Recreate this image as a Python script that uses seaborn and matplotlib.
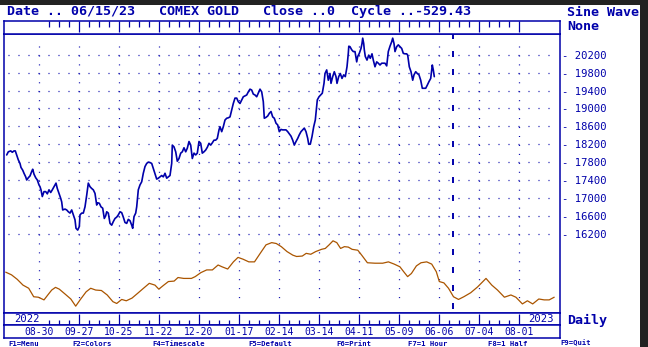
import matplotlib
matplotlib.use("Agg")
import matplotlib.pyplot as plt
import pandas as pd
import seaborn as sns
from matplotlib.patches import Rectangle

# ---------------- data ----------------
close_day = [
    -16.0, -15.2, -14.0, -13.2, -12.35, -11.7, -11.0, -10.2, -9.35, -8.85,
    -8.0, -7.35, -6.5, -6.0, -5.2, -4.35, -3.5, -3.0, -2.35, -1.5,
    -0.7, 0.15, 0.65, 1.15, 1.8, 2.65, 3.5, 4.3, 5.15, 6.0,
    6.8, 7.65, 8.65, 9.3, 10.15, 11.0, 11.5, 12.0, 13.15, 14.0,
    14.8, 15.65, 16.5, 17.3, 18.15, 18.65, 19.5, 20.3, 20.65, 21.5,
    22.3, 23.15, 24.0, 24.8, 25.65, 26.5, 27.3, 28.15, 29.0, 29.5,
    30.3, 31.15, 32.0, 32.8, 33.5, 34.0, 34.8, 35.65, 36.5, 37.3,
    38.15, 39.0, 39.8, 40.65, 41.5, 42.3, 43.15, 44.0, 44.8, 45.65,
    46.5, 47.0, 47.65, 48.5, 49.0, 49.8, 50.65, 51.5, 52.3, 53.15,
    54.0, 54.8, 55.65, 56.5, 57.3, 58.15, 59.0, 59.8, 60.65, 61.5,
    62.3, 63.15, 64.0, 64.8, 65.65, 66.5, 66.8, 67.65, 68.5, 69.3,
    70.15, 71.0, 71.8, 72.65, 73.5, 74.3, 75.15, 76.0, 76.8, 77.65,
    78.5, 79.3, 80.15, 81.0, 81.8, 82.65, 83.5, 84.3, 85.15, 86.0,
    86.8, 87.65, 88.5, 89.3, 90.15, 90.65, 91.5, 92.3, 93.15, 94.0,
    94.8, 95.65, 96.5, 97.3, 98.15, 99.0, 99.8, 100.65, 101.5, 102.3,
    103.15, 104.0, 104.8, 105.65, 106.5, 107.3, 108.15, 109.0, 109.8, 110.65,
    111.5, 112.3, 112.8, 113.65, 114.5, 115.3, 116.15, 117.0, 117.8, 118.65,
    119.5, 120.3, 121.15, 122.0, 122.8, 123.65, 124.5, 125.3, 126.15, 127.0,
    127.8, 128.65, 129.5, 130.3, 131.15, 132.0, 132.8, 133.65, 134.5, 135.0,
    135.8, 136.65, 137.5, 138.3, 138.8, 139.3, 140.15, 141.0, 141.8, 142.65,
    143.15, 144.0, 144.8, 145.65, 146.15, 147.0, 147.8, 148.65, 149.15, 150.0,
    150.8, 151.65, 152.5, 153.3, 154.15, 154.8, 155.05, 155.65, 156.5, 157.3,
    158.15, 159.0, 159.5, 160.3, 161.15, 161.65, 162.0, 162.5, 162.8, 163.3,
    164.15, 165.0, 165.8, 166.65, 167.3, 168.15, 169.0, 169.8, 170.65, 171.5,
    172.3, 173.15, 174.0, 174.8, 175.65, 176.5, 177.0, 177.65, 178.15, 179.0,
    179.8, 180.65, 181.5, 182.3, 183.15, 184.0, 184.5, 185.3, 186.15, 187.0,
    187.65, 188.5, 189.3, 190.15, 191.0, 191.8, 192.65, 193.5, 194.3, 195.15,
    196.0, 196.8, 197.3, 197.8,
]
close_val = [
    17960, 18030, 18050, 18020, 18050, 18050, 17960, 17850, 17770, 17680,
    17620, 17550, 17470, 17400, 17450, 17490, 17590, 17640, 17530, 17450,
    17400, 17290, 17250, 17180, 17030, 17140, 17140, 17090, 17180, 17120,
    17180, 17250, 17330, 17210, 17100, 16990, 16910, 16730, 16750, 16730,
    16690, 16660, 16730, 16620, 16510, 16320, 16280, 16360, 16620, 16660,
    16660, 16800, 17060, 17330, 17250, 17210, 17180, 17100, 16840, 16890,
    16880, 16800, 16770, 16540, 16600, 16690, 16660, 16430, 16390, 16470,
    16540, 16570, 16620, 16690, 16670, 16570, 16450, 16430, 16520, 16490,
    16390, 16320, 16580, 16660, 16800, 17180, 17290, 17360, 17550, 17700,
    17770, 17800, 17790, 17770, 17660, 17550, 17420, 17440, 17470, 17500,
    17470, 17550, 17440, 17470, 17500, 17770, 18180, 18140, 18030, 17820,
    17880, 18000, 18030, 18120, 18030, 18110, 18260, 18180, 17880, 18000,
    17960, 18000, 18260, 18220, 18000, 18030, 18070, 18130, 18220, 18180,
    18230, 18290, 18290, 18330, 18520, 18590, 18480, 18590, 18740, 18780,
    18790, 18810, 18960, 19110, 19230, 19230, 19150, 19110, 19190, 19260,
    19280, 19300, 19370, 19430, 19410, 19320, 19300, 19260, 19340, 19430,
    19370, 19150, 18780, 18800, 18830, 18890, 18930, 18810, 18780, 18670,
    18630, 18480, 18530, 18520, 18520, 18520, 18480, 18430, 18380, 18290,
    18180, 18260, 18330, 18410, 18480, 18520, 18560, 18480, 18330, 18200,
    18200, 18370, 18590, 18740, 18960, 19190, 19260, 19300, 19340, 19560,
    19780, 19860, 19630, 19780, 19560, 19710, 19820, 19710, 19560, 19710,
    19780, 19670, 19750, 19710, 19930, 20230, 20390, 20380, 20310, 20270,
    20270, 20040, 20160, 20230, 20340, 20450, 20570, 20450, 20310, 20160,
    20080, 20190, 20120, 20220, 20080, 19930, 20040, 20010, 19970, 20010,
    20010, 20010, 19950, 20270, 20390, 20490, 20570, 20450, 20270, 20380,
    20420, 20380, 20340, 20230, 20220, 20220, 20190, 19930, 19820, 19630,
    19750, 19820, 19780, 19750, 19630, 19450, 19450, 19450, 19520, 19600,
    19670, 19970, 19860, 19710,
]
wave_day = [
    -16.5, -13.6, -10.75, -7.85, -5.0, -2.5, -0.2, 2.65, 4.55, 6.5,
    8.4, 10.3, 13.2, 16.05, 18.5, 20.85, 23.7, 26.0, 28.5, 31.35,
    34.25, 37.1, 39.0, 41.5, 43.8, 46.65, 49.55, 52.4, 55.3, 58.15,
    60.05, 62.55, 64.85, 67.7, 69.65, 72.5, 76.35, 78.25, 81.1, 84.0,
    86.85, 89.7, 91.65, 94.5, 97.35, 99.65, 102.15, 105.05, 107.9, 110.75,
    113.65, 116.5, 118.8, 121.3, 124.15, 127.05, 128.95, 131.8, 133.75, 136.05,
    138.5, 141.4, 143.3, 145.2, 147.15, 149.05, 150.95, 152.85, 154.8, 156.7,
    159.55, 161.5, 164.35, 168.15, 172.0, 174.85, 177.75, 180.6, 182.5, 184.45,
    186.35, 188.85, 191.15, 194.0, 196.5, 198.8, 200.3, 202.6, 204.9, 207.4,
    209.9, 212.55, 216.0, 219.45, 223.65, 226.55, 229.4, 232.85, 236.1, 238.6,
    241.85, 244.35, 247.0, 250.05, 252.75, 255.25, 257.75,
]
wave_val = [
    15340, 15280, 15180, 15050, 14980, 14790, 14780, 14720, 14830, 14940,
    15000, 14960, 14850, 14740, 14580, 14730, 14900, 14980, 14940, 14930,
    14830, 14680, 14640, 14730, 14700, 14760, 14870, 14980, 15090, 15050,
    14960, 15050, 15130, 15140, 15220, 15200, 15200, 15240, 15330, 15390,
    15390, 15500, 15460, 15410, 15570, 15670, 15630, 15570, 15570, 15760,
    15950, 16000, 15980, 15910, 15800, 15720, 15690, 15700, 15760, 15740,
    15800, 15850, 15870, 15950, 16040, 16000, 15870, 15910, 15900, 15850,
    15830, 15720, 15550, 15540, 15540, 15570, 15520, 15460, 15350, 15240,
    15310, 15480, 15550, 15570, 15520, 15350, 15130, 15100, 14980, 14790,
    14730, 14790, 14880, 15010, 15200, 15050, 14940, 14780, 14830, 14780,
    14630, 14700, 14630, 14740, 14720, 14720, 14780,
]
price_ticks = [16200, 16600, 17000, 17400, 17800, 18200, 18600, 19000, 19400, 19800, 20200]
date_labels = ["08-30", "09-27", "10-25", "11-22", "12-20", "01-17", "02-14",
               "03-14", "04-11", "05-09", "06-06", "07-04", "08-01"]
date_days = [0, 20, 40, 60, 80, 100, 120, 140, 160, 180, 200, 220, 240]
week_days = list(range(5, 241, 5))
year_labels = ["2022", "2023"]
year_days = [-6.1, 251.15]
cursor_day = 207
header = "Date .. 06/15/23   COMEX GOLD   Close ..0  Cycle ..-529.43"
footer_keys = ["F1=Menu", "F2=Colors", "F4=Timescale", "F5=Default",
               "F6=Print", "F7=1 Hour", "F8=1 Half", "F9=Quit"]
footer_px = [8, 72, 152, 248, 336, 408, 488, 560]

# ---------------- style ----------------
BLUE = "#0000AA"
BROWN = "#AA5500"
sns.set_style("white")
plt.rcParams["font.family"] = ["DejaVu Sans Mono", "DejaVu Sans"]
plt.rcParams["lines.scale_dashes"] = False
MONO = "DejaVu Sans Mono"

W, H = 648, 347
fig = plt.figure(figsize=(W / 100, H / 100), dpi=100)
fig.patch.set_facecolor("white")

def fx(px):
    return px / W

def fy(py):
    return 1 - py / H

XLIM = (-17.35, 260.65)
YLIM = (14427, 20663)

ax = fig.add_axes([fx(4), fy(313), fx(556), 279 / H])
ax_top = fig.add_axes([fx(4), fy(34), fx(556), 13 / H])
ax_yr = fig.add_axes([fx(4), fy(325), fx(556), 12 / H])
ax_dt = fig.add_axes([fx(4), fy(338), fx(556), 13 / H])

for a in (ax, ax_top, ax_yr, ax_dt):
    a.set_xlim(*XLIM)
    a.set_facecolor("white")
    for s in a.spines.values():
        s.set_color(BLUE)
        s.set_linewidth(1.1)
        s.set_visible(True)
    a.set_yticks([])
ax.set_ylim(*YLIM)

# dotted grid
for p in price_ticks:
    ax.plot([-15.35, 255.15], [p, p], color=BLUE, lw=0.9,
            ls=(0, (0.72, 6.48)), dash_capstyle="butt", zorder=1)
for d in date_days:
    ax.plot([d, d], [20400, 14600], color=BLUE, lw=0.9,
            ls=(0, (0.72, 5.724)), dash_capstyle="butt", zorder=1)

# series
df_close = pd.DataFrame({"day": close_day, "close": close_val})
df_wave = pd.DataFrame({"day": wave_day, "wave": wave_val})
sns.lineplot(data=df_close, x="day", y="close", ax=ax, color=BLUE, lw=1.2,
             sort=False, estimator=None, zorder=3)
sns.lineplot(data=df_wave, x="day", y="wave", ax=ax, color=BROWN, lw=0.9,
             sort=False, estimator=None, zorder=3)
ax.set_xlabel("")
ax.set_ylabel("")

# cursor dashed line (extends into top strip)
ax.plot([cursor_day, cursor_day], [1 + 13 / 279, 0], transform=ax.get_xaxis_transform(),
        color=BLUE, lw=1.4, ls=(4.32, (4.32, 8.64)), dash_capstyle="butt",
        clip_on=False, zorder=4)

# right price axis
ax.yaxis.tick_right()
ax.set_yticks(price_ticks)
ax.set_yticklabels(["- " + str(p) for p in price_ticks])
ax.tick_params(axis="y", length=0, pad=1.5, labelsize=7.6, labelcolor=BLUE)
ax.set_xticks([])
for t in ax.get_yticklabels():
    t.set_fontfamily(MONO)

# top tick strip
minor = [d for d in week_days if d not in date_days]
major = [d for d in date_days if d >= 5]
ax_top.set_xticks(major)
ax_top.set_xticks(minor, minor=True)
ax_top.tick_params(axis="x", which="both", top=True, bottom=False, direction="in",
                   labeltop=False, labelbottom=False, color=BLUE, width=0.9)
ax_top.tick_params(axis="x", which="major", length=8.0)
ax_top.tick_params(axis="x", which="minor", length=4.3)

# year strip
ax_yr.set_xticks(major)
ax_yr.set_xticks(minor, minor=True)
ax_yr.tick_params(axis="x", which="both", top=False, bottom=True, direction="in",
                  labeltop=False, labelbottom=False, color=BLUE, width=0.9)
ax_yr.tick_params(axis="x", which="major", length=7.6)
ax_yr.tick_params(axis="x", which="minor", length=3.6)
for lab, d in zip(year_labels, year_days):
    ax_yr.text(d, 0.5, lab, transform=ax_yr.get_xaxis_transform(), ha="center",
               va="center", color=BLUE, fontsize=7.6, family=MONO)

# date strip
ax_dt.set_xticks([])
for lab, d in zip(date_labels, date_days):
    ax_dt.text(d, 0.45, lab, transform=ax_dt.get_xaxis_transform(), ha="center",
               va="center", color=BLUE, fontsize=7.0, family=MONO)

# texts
fig.text(fx(7), fy(12), header, color=BLUE, fontsize=9.6, fontweight="bold",
         family=MONO, va="center", ha="left")
fig.text(fx(567), fy(12.5), "Sine Wave", color=BLUE, fontsize=9.6, fontweight="bold",
         family=MONO, va="center", ha="left")
fig.text(fx(567), fy(26.5), "None", color=BLUE, fontsize=9.6, fontweight="bold",
         family=MONO, va="center", ha="left")
fig.text(fx(567), fy(320.5), "Daily", color=BLUE, fontsize=9.6, fontweight="bold",
         family=MONO, va="center", ha="left")
for key, px in zip(footer_keys, footer_px):
    fig.text(fx(px), fy(346.6), key, color=BLUE, fontsize=5.2, fontweight="bold",
             family=MONO, va="bottom", ha="left")

# dark window borders
fig.add_artist(Rectangle((0, fy(5)), 1, 5 / H, transform=fig.transFigure,
                         facecolor="#222222", edgecolor="none", zorder=10))
fig.add_artist(Rectangle((fx(640), 0), fx(8), 1, transform=fig.transFigure,
                         facecolor="#222222", edgecolor="none", zorder=10))

fig.savefig("out.png", dpi=100, facecolor="white")
